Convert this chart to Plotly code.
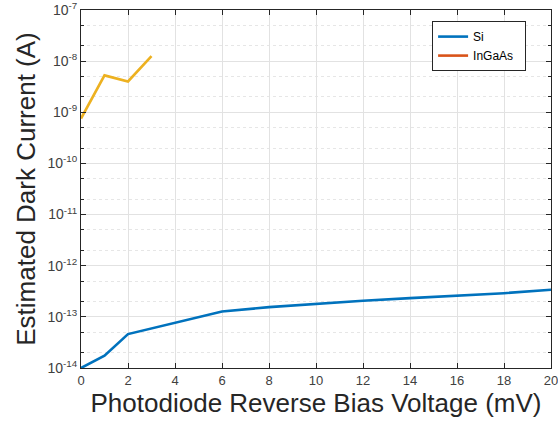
import plotly.graph_objects as go

# Data
si_x = [0, 1, 2, 4, 6, 8, 10, 12, 14, 16, 18, 20]
si_y = [1.0e-14, 1.74e-14, 4.6e-14, 7.6e-14, 1.27e-13, 1.55e-13, 1.8e-13,
        2.06e-13, 2.32e-13, 2.57e-13, 2.9e-13, 3.38e-13]
ingaas_x = [0, 1, 2, 3]
ingaas_y = [7.55e-10, 5.27e-9, 4.0e-9, 1.26e-8]

y_tickvals = [1e-14, 1e-13, 1e-12, 1e-11, 1e-10, 1e-9, 1e-8, 1e-7]
y_ticktext = ["10<sup>-14</sup>", "10<sup>-13</sup>", "10<sup>-12</sup>", "10<sup>-11</sup>",
              "10<sup>-10</sup>", "10<sup>-9</sup>", "10<sup>-8</sup>", "10<sup>-7</sup>"]
x_tickvals = [0, 2, 4, 6, 8, 10, 12, 14, 16, 18, 20]

BLUE = "#0072BD"
ORANGE = "#D95319"
YELLOW = "#EDB120"
AX = "#262626"

fig = go.Figure()
fig.add_trace(go.Scatter(x=si_x, y=si_y, mode="lines", name="Si",
                         line=dict(color=BLUE, width=2.6)))
# legend entry for InGaAs (orange) as in the reference
fig.add_trace(go.Scatter(x=[None], y=[None], mode="lines", name="InGaAs\u00a0\u00a0",
                         line=dict(color=ORANGE, width=2.6)))
fig.add_trace(go.Scatter(x=ingaas_x, y=ingaas_y, mode="lines", name="InGaAs",
                         showlegend=False, line=dict(color=YELLOW, width=2.6)))

fig.update_layout(
    width=558, height=431,
    margin=dict(l=81, r=7, t=10, b=63, autoexpand=False),
    paper_bgcolor="white", plot_bgcolor="white",
    font=dict(family="Liberation Sans, Arial, sans-serif", color=AX),
    showlegend=True,
    legend=dict(x=0.747, y=0.969, xanchor="left", yanchor="top",
                bgcolor="white", bordercolor=AX, borderwidth=1,
                font=dict(size=12, color="#000000"),
                tracegroupgap=0),
)
fig.update_xaxes(
    range=[0, 20], tickvals=x_tickvals, automargin=False,
    ticklabeloverflow="allow",
    ticks="inside", ticklen=5, tickcolor=AX, tickwidth=1,
    showline=True, linecolor=AX, linewidth=1, mirror="allticks",
    showgrid=True, gridcolor="#e2e2e2", gridwidth=1,
    zeroline=False,
    tickfont=dict(size=13, color="#404040"),
    title=dict(text="Photodiode Reverse Bias Voltage (mV)", font=dict(size=26, color=AX), standoff=6),
)
fig.update_yaxes(
    type="log", range=[-14, -7], tickvals=y_tickvals, ticktext=y_ticktext,
    automargin=False, ticklabeloverflow="allow",
    ticks="inside", ticklen=5, tickcolor=AX, tickwidth=1,
    showline=True, linecolor=AX, linewidth=1, mirror="allticks",
    showgrid=True, gridcolor="#e2e2e2", gridwidth=1,
    zeroline=False,
    tickfont=dict(size=14, color="#404040"),
    minor=dict(ticks="inside", ticklen=3, tickcolor=AX, showgrid=True,
               gridcolor="#e6e6e6", griddash="dot", gridwidth=1),
    title=dict(text="Estimated Dark Current (A)", font=dict(size=26, color=AX), standoff=4),
)

fig.write_html("out.html")
